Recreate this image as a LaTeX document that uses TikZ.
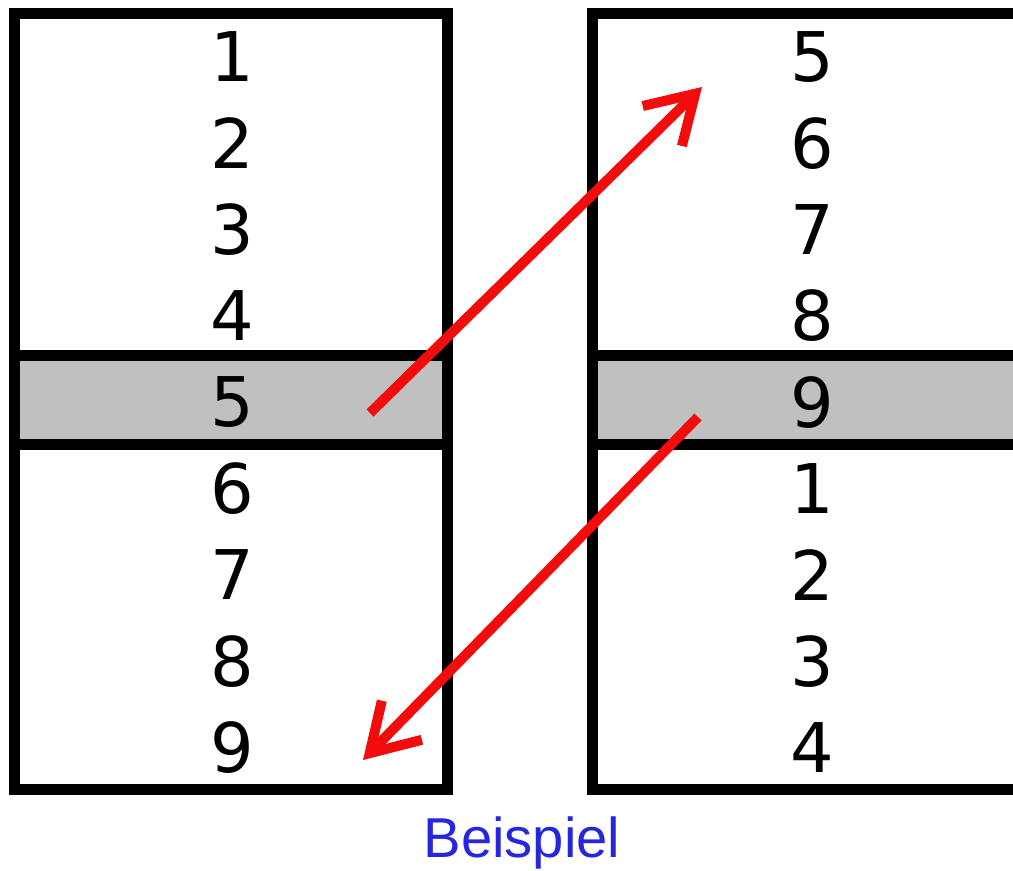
\documentclass[tikz,border=0pt]{standalone}
\usepackage{fontspec}
\setmainfont{DejaVu Sans}
\newfontfamily\captionfont{Liberation Sans}
\usetikzlibrary{arrows.meta}
\definecolor{cellgray}{RGB}{192,192,192}
\definecolor{arrowred}{RGB}{242,12,12}
\definecolor{captionblue}{RGB}{38,38,222}

\begin{document}
\begin{tikzpicture}[x=0.1mm, y=-0.1mm,
  frame/.style={line width=1.1mm},
  digit/.style={font=\fontsize{19.5}{20}\selectfont, inner sep=0pt},
  jump/.style={arrowred, line width=1mm, -{Straight Barb[length=4.6mm, width=5.6mm]}}]

\newcommand{\rowzero}{57}
\newcommand{\rowstep}{86.3}
\newcommand{\bandtop}{355}
\newcommand{\bandbottom}{444}
\newcommand{\listtop}{13}
\newcommand{\listbottom}{789}

\useasboundingbox (0,0) rectangle (1013,870);
\clip (0,0) rectangle (1013,870);

% highlighted rows
\fill[cellgray] (14,\bandtop) rectangle (447,\bandbottom);
\fill[cellgray] (592,\bandtop) rectangle (1040,\bandbottom);

% left list
\draw[frame] (14,\listtop) rectangle (447,\listbottom);
\draw[frame] (14,\bandtop) -- (447,\bandtop);
\draw[frame] (14,\bandbottom) -- (447,\bandbottom);
\foreach \num [count=\i from 0] in {1,...,9}
  \node[digit] (l\num) at (232, {\rowzero + \rowstep*\i}) {\num};

% right list (rotated)
\draw[frame] (592,\listtop) rectangle (1040,\listbottom);
\draw[frame] (592,\bandtop) -- (1040,\bandtop);
\draw[frame] (592,\bandbottom) -- (1040,\bandbottom);
\foreach \num [count=\i from 0] in {5,6,7,8,9,1,2,3,4}
  \node[digit] (r\num) at (812, {\rowzero + \rowstep*\i}) {\num};

% arrows
\coordinate (upstart) at (370,413);
\coordinate (upend) at (702,87);
\coordinate (downstart) at (698,417);
\coordinate (downend) at (363,760);
\draw[jump] (upstart) -- (upend);
\draw[jump] (downstart) -- (downend);

\node[captionblue, anchor=base, font=\captionfont\fontsize{16}{18}\selectfont]
  (caption) at (522,857) {Beispiel};

\end{tikzpicture}
\end{document}
